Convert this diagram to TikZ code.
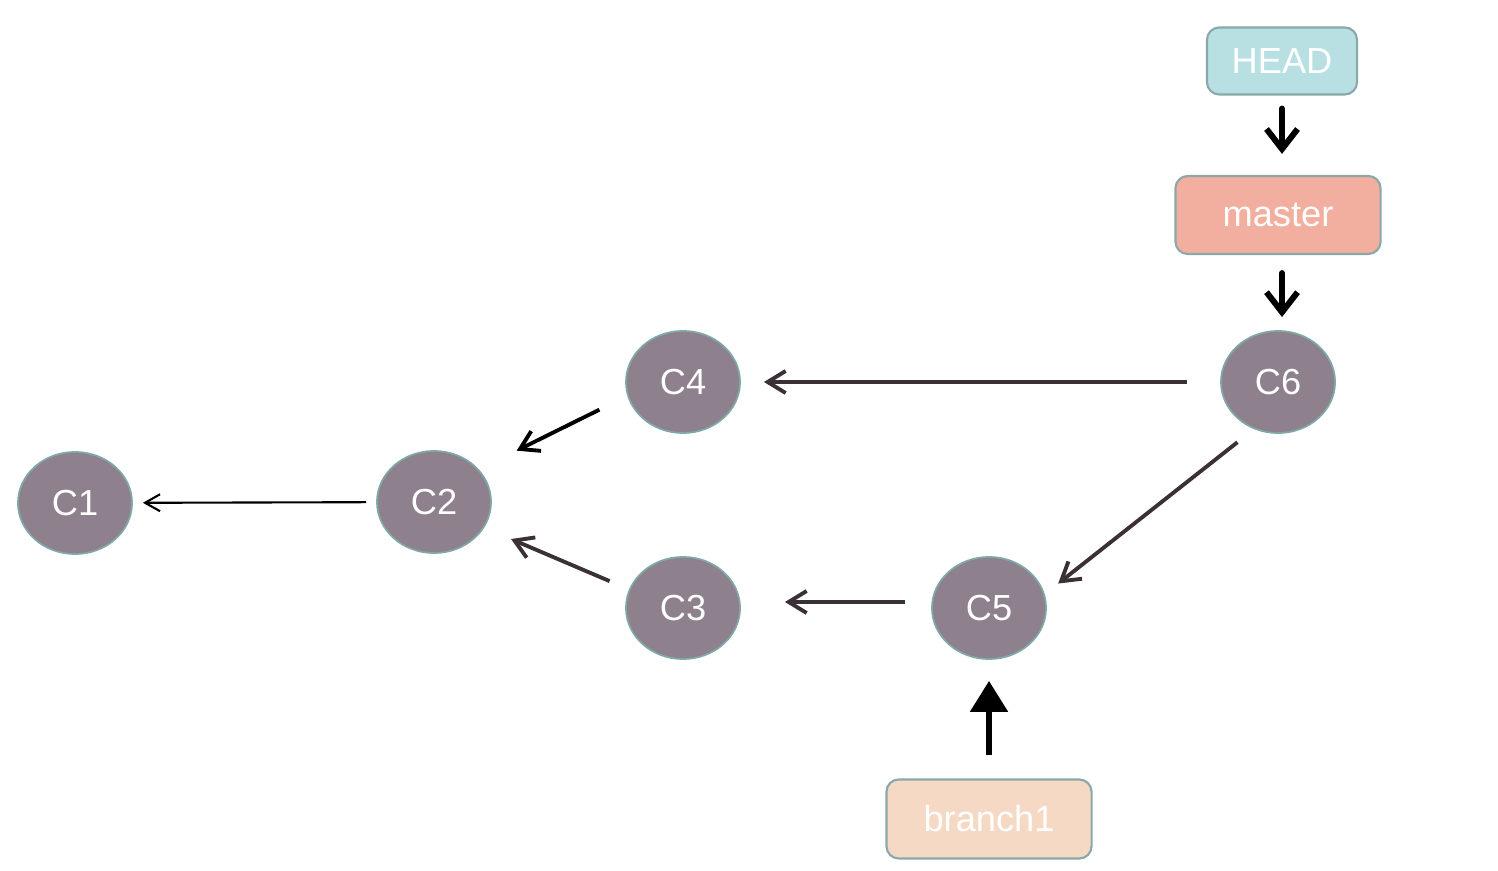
\documentclass[tikz,border=0pt]{standalone}
\usepackage{fontspec}
\setmainfont{Liberation Sans}
\usepackage{tikz}
\usetikzlibrary{positioning,arrows.meta,shapes.geometric}

\definecolor{commitfill}{HTML}{8E808C}
\definecolor{commitline}{HTML}{7FA8A6}
\definecolor{headfill}{HTML}{B8E0E2}
\definecolor{masterfill}{HTML}{F2AE9E}
\definecolor{branchfill}{HTML}{F5D9C4}
\definecolor{boxline}{HTML}{8AA8A8}
\definecolor{arrdark}{HTML}{3B3035}

\begin{document}
\begin{tikzpicture}[x=0.01cm, y=-0.01cm,
  commit/.style={ellipse, draw=commitline, fill=commitfill, line width=0.5pt,
                 minimum width=1.14cm, minimum height=1.02cm, inner sep=0pt,
                 text=white, font=\fontsize{10.3}{12}\selectfont},
  refbox/.style={draw=boxline, rounded corners=3.5pt, line width=0.6pt,
                 minimum height=0.67cm, inner sep=0pt, text=white,
                 font=\fontsize{10.3}{12}\selectfont},
  thin/.style={-{Straight Barb[length=1.5mm, width=1.7mm]}, line width=0.6pt},
  mid/.style={-{Straight Barb[length=1.8mm, width=2.2mm]}, line width=1.1pt},
  ptr/.style={-{Straight Barb[length=2mm, width=3.1mm]}, line width=1.7pt, line cap=round},
  tip/.style={-{Triangle[length=3.1mm, width=3.7mm]}, line width=1.5pt},
]
\useasboundingbox (0,0) rectangle (1498,871);

% commits
\node[commit] (c1) at (75,503) {C1};
\node[commit] (c2) at (434,502) {C2};
\node[commit] (c4) at (683,382) {C4};
\node[commit] (c3) at (683,608) {C3};
\node[commit] (c5) at (989,608) {C5};
\node[commit] (c6) at (1278,382) {C6};

% refs
\node[refbox, fill=headfill, minimum width=1.5cm] (head) at (1282,61) {HEAD};
\node[refbox, fill=masterfill, minimum width=2.05cm, minimum height=0.78cm] (master) at (1278,215) {master};
\node[refbox, fill=branchfill, minimum width=2.05cm, minimum height=0.79cm] (branch) at (989,819) {branch1};

% parent links
\draw[thin, shorten <=0.1cm, shorten >=0.1cm] (c2) -- (c1);
\draw[mid, shorten <=0.31cm, shorten >=0.42cm] (c4.194) -- (c2.36);
\draw[mid, arrdark, shorten <=0.21cm, shorten >=0.29cm] (c3.161) -- (c2.333);
\draw[mid, arrdark, shorten <=0.33cm, shorten >=0.23cm] (c6) -- (c4);
\draw[mid, arrdark, shorten <=0.26cm, shorten >=0.44cm] ([yshift=0.06cm]c5.west) -- ([yshift=0.06cm]c3.east);
\draw[mid, arrdark, shorten <=0.21cm, shorten >=0.17cm] (c6.243) -- (c5.14);

% pointers
\draw[ptr, shorten <=0.13cm, shorten >=0.21cm] (head.south) -- (head.south |- master.north);
\draw[ptr, shorten <=0.18cm, shorten >=0.13cm] (master.south -| head) -- (c6.north -| head);
\draw[tip, shorten <=0.23cm, shorten >=0.21cm] (branch) -- (c5);
\end{tikzpicture}
\end{document}
